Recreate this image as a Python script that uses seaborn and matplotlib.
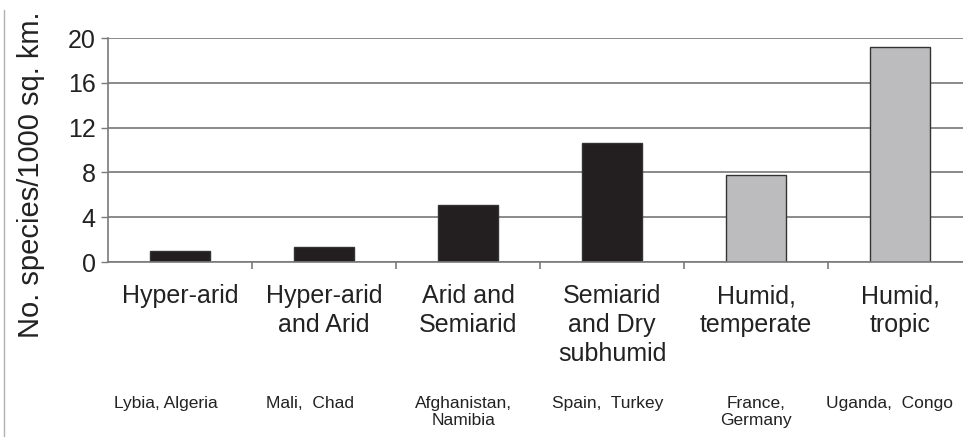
import matplotlib
matplotlib.use("Agg")
import matplotlib.pyplot as plt
import matplotlib.transforms as mtransforms
from matplotlib.lines import Line2D
import seaborn as sns

zones = ["Hyper-arid", "Hyper-arid\nand Arid", "Arid and\nSemiarid",
         "Semiarid\nand Dry\nsubhumid", "Humid,\ntemperate", "Humid,\ntropic"]
countries = ["Lybia, Algeria", "Mali,  Chad", "Afghanistan,\nNamibia",
             "Spain,  Turkey", "France,\nGermany", "Uganda,  Congo"]
species = [1.0, 1.3, 5.1, 10.6, 7.8, 19.2]
bar_colors = ["#231f20", "#231f20", "#231f20", "#231f20", "#bcbcbf", "#bcbcbf"]
yticks = [0, 4, 8, 12, 16, 20]
# small horizontal shifts of the country captions (in category units)
country_shift = [-0.10, -0.10, -0.03, -0.03, 0.0, -0.07]

sns.set_style("white")
plt.rcParams["font.family"] = ["Liberation Sans", "DejaVu Sans"]

fig = plt.figure(figsize=(9.63, 4.37), dpi=100)
ax = fig.add_axes([108 / 963, 175 / 437, 864 / 963, 224 / 437])

sns.barplot(x=zones, y=species, hue=zones, palette=bar_colors, legend=False,
            width=0.42, edgecolor="#333333", linewidth=1.0, saturation=1, ax=ax)

ax.set_xlim(-0.5, 5.5)
ax.set_ylim(0, 20)
ax.set_yticks(yticks)
ax.yaxis.grid(True, color="#8a8a8a", linewidth=1.4)
ax.set_axisbelow(True)
for s in ["top", "right"]:
    ax.spines[s].set_visible(False)
for s in ["left", "bottom"]:
    ax.spines[s].set_color("#7a7a7a")
    ax.spines[s].set_linewidth(1.2)

ax.tick_params(axis="y", left=True, length=5, width=1, color="#7a7a7a",
               labelsize=18, labelcolor="#222222", pad=4)
ax.set_xticks(range(len(zones)))
ax.set_xticklabels(zones, fontsize=18, color="#222222", linespacing=1.25)
ax.tick_params(axis="x", which="major", length=0, pad=16)
ax.set_xticks([i + 0.5 for i in range(len(zones) - 1)], minor=True)
ax.tick_params(axis="x", which="minor", bottom=True, length=5, width=1.2,
               color="#7a7a7a")
ax.set_xlabel("")
ax.set_ylabel("No. species/1000 sq. km.", fontsize=21, color="#222222")
ax.yaxis.set_label_coords(-0.073, 0.388)

trans = mtransforms.blended_transform_factory(ax.transData, fig.transFigure)
for i, (c, dx) in enumerate(zip(countries, country_shift)):
    ax.text(i + dx, 1 - 396 / 437, c, transform=trans, ha="center", va="top",
            fontsize=12.5, color="#222222", linespacing=1.15)

# thin frame line at the left edge of the picture
fig.add_artist(Line2D([4 / 963, 4 / 963], [0, 1 - 10 / 437], transform=fig.transFigure,
                      color="#b0b0b0", linewidth=1))

fig.savefig("out.png", dpi=100)
